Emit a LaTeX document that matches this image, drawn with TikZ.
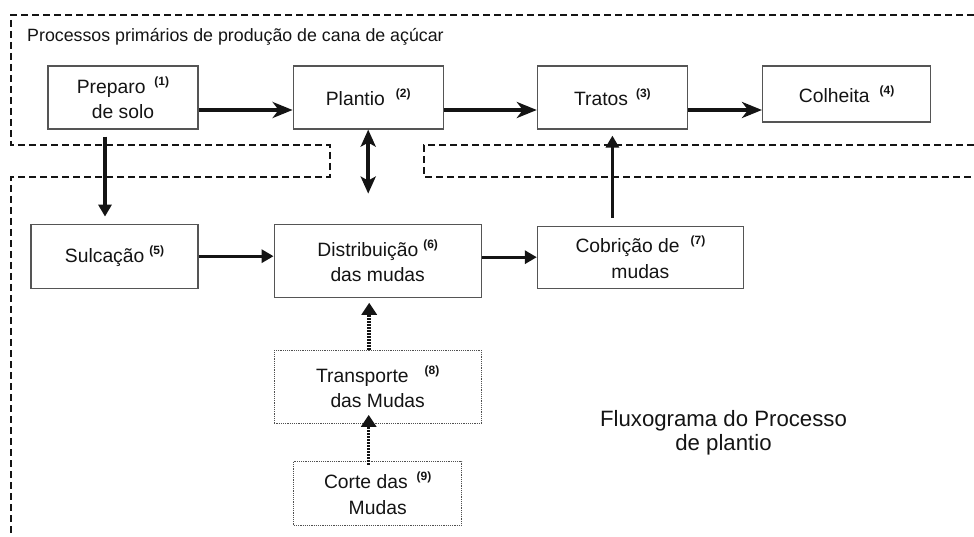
\documentclass[tikz,border=0pt]{standalone}
\usepackage{fontspec}
\setmainfont{Liberation Sans}
\usetikzlibrary{positioning,arrows.meta,backgrounds}

\begin{document}
\begin{tikzpicture}[x=1pt, y=-1pt]

      \definecolor{ink}{HTML}{141414}
      \definecolor{boxline}{HTML}{555555}
      \definecolor{dotline}{HTML}{505050}

      \tikzstyle{block}       = [rectangle, draw = boxline, line width=1.2pt, fill=white, align=center, text=ink, inner sep=0pt, font=\fontsize{19.3}{25.5}\selectfont]
      \tikzstyle{dottedblock} = [block, draw = dotline, line width=1.1pt, dash pattern=on 1.2pt off 1pt]

      \tikzstyle{bigconnector} = [line width=4pt, ink, -{Stealth[length=20pt, width=16pt, inset=6pt]}]
      \tikzstyle{bigboth}      = [line width=4pt, ink, {Stealth[length=17pt, width=15pt, inset=4pt]}-{Stealth[length=17pt, width=15pt, inset=4pt]}]
      \tikzstyle{connector}    = [line width=3.3pt, ink, -{Triangle[length=12pt, width=13pt]}]
      \tikzstyle{dotconnector} = [line width=3.5pt, ink, dash pattern=on 2pt off 1pt, -{Triangle[length=12pt, width=15pt]}]
      \tikzstyle{region}       = [line width=2.6pt, ink, dash pattern=on 7pt off 4pt]

      \newcommand{\stepnum}[2][8pt]{\hspace{#1}\raisebox{8pt}{\fontsize{12}{12}\selectfont\bfseries (#2)}}
      \newcommand{\rowdrop}[0]{-12.5pt}

      \useasboundingbox (0,0) rectangle (974,537);

      \node [anchor=base west, text=ink, inner sep=0pt, font=\fontsize{17.8}{20}\selectfont] (title) at (27,42) {Processos primários de produção de cana de açúcar};

      \node [block,       minimum width=150pt, minimum height=63pt]                                                   (preparo)      at (123,97.5) {Preparo\stepnum[9pt]{1}\\de solo};
      \node [block,       minimum width=150pt, minimum height=63pt, right = 94pt of preparo]                          (plantio)      {Plantio\stepnum[11pt]{2}};
      \node [block,       minimum width=150pt, minimum height=63pt, right = 93pt of plantio]                          (tratos)       {Tratos\stepnum[8pt]{3}};
      \node [block,       minimum width=168pt, minimum height=56pt, right = 74pt of tratos.north east, anchor = north west] (colheita) {Colheita\stepnum[10pt]{4}};
      \node [block,       minimum width=167pt, minimum height=64pt, below = 94pt of preparo.south east, anchor = north east] (sulcacao) {Sulcação\stepnum[5pt]{5}};
      \node [block,       minimum width=207pt, minimum height=73pt, right = 75pt of sulcacao.north east, anchor = north west] (distribuicao) {Distribuição\stepnum[5pt]{6}\\das mudas};
      \node [block,       minimum width=206pt, minimum height=62pt, below = 96pt of tratos.south west, anchor = north west]   (cobricao) {Cobrição de\stepnum[11pt]{7}\\mudas};
      \node [dottedblock, minimum width=207pt, minimum height=73pt, below = 52pt of distribuicao]                      (transporte)   {Transporte\stepnum[16pt]{8}\\das Mudas};
      \node [dottedblock, minimum width=168pt, minimum height=64pt, below = 37pt of transporte]                        (corte)        {Corte das\stepnum[9pt]{9}\\Mudas};

      \coordinate [below = 64pt of plantio.south] (channelend);

      \draw [bigconnector] ([yshift=\rowdrop]preparo.east) -- ([yshift=\rowdrop]plantio.west);
      \draw [bigconnector] ([yshift=\rowdrop]plantio.east) -- ([yshift=\rowdrop]tratos.west);
      \draw [bigconnector] ([yshift=\rowdrop]tratos.east)  -- ([yshift=\rowdrop]tratos.east -| colheita.west);
      \draw [bigboth]      (plantio.south) -- (channelend);
      \draw [connector, shorten <=7pt, shorten >=7pt] ([xshift=-18pt]preparo.south) -- ([xshift=-18pt]preparo.south |- sulcacao.north);
      \draw [connector] (sulcacao.east) -- (sulcacao.east -| distribuicao.west);
      \draw [connector] (distribuicao.east |- cobricao.west) -- (cobricao.west);
      \draw [connector, shorten <=8pt, shorten >=6pt] (tratos.south |- cobricao.north) -- (tratos.south);
      \draw [dotconnector, shorten >=5pt] ([xshift=-8.5pt]transporte.north) -- ([xshift=-8.5pt]distribuicao.south);
      \draw [dotconnector, shorten <=-4pt, shorten >=-9pt] ([xshift=-9pt]corte.north) -- ([xshift=-9pt]corte.north |- transporte.south);

      \node [align=center, text=ink, inner sep=0pt, font=\fontsize{22.2}{23.5}\selectfont] (caption) at (723.5,433) {Fluxograma do Processo\\de plantio};

      \begin{scope}[on background layer]
        \draw [region] (974,15) -- (11,15) -- (11,145) -- (330,145) -- (330,177) -- (11,177) -- (11,537);
        \draw [region] (974,145) -- (424,145) -- (424,177) -- (974,177);
      \end{scope}

\end{tikzpicture}
\end{document}
